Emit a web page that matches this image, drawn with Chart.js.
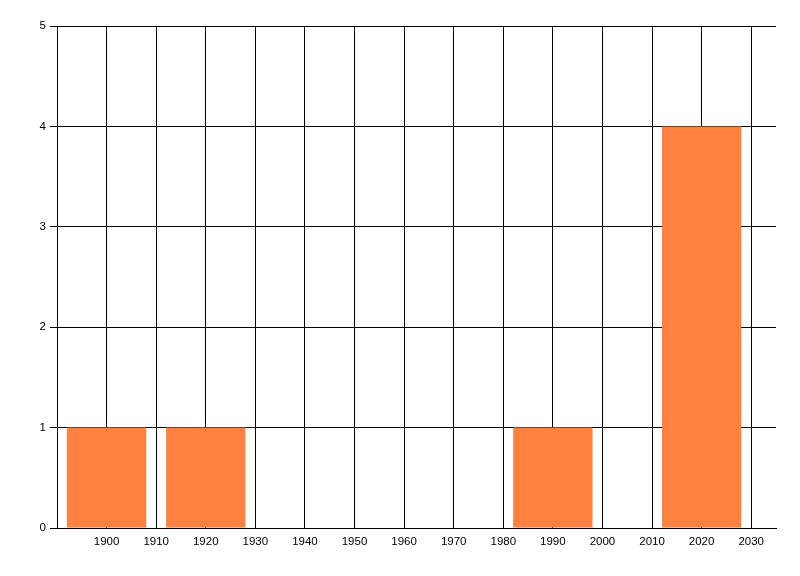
<!DOCTYPE html>
<html>
<head>
<meta charset="utf-8">
<script src="https://cdn.jsdelivr.net/npm/chart.js@4/dist/chart.umd.min.js"></script>
<style>
html,body{margin:0;padding:0;background:#fff;}
#wrap{width:800px;height:576px;}
</style>
</head>
<body>
<div id="wrap"><canvas id="c" width="800" height="576"></canvas></div>
<script>
const years = [1900, 1920, 1990, 2020];
const counts = [1, 1, 1, 4];
const xTicks = [1900, 1910, 1920, 1930, 1940, 1950, 1960, 1970, 1980, 1990, 2000, 2010, 2020, 2030];
const yTicks = [0, 1, 2, 3, 4, 5];

const points = years.map((y, i) => ({x: y, y: counts[i]}));

new Chart(document.getElementById('c'), {
  type: 'bar',
  data: {
    datasets: [{
      data: points,
      backgroundColor: 'rgb(255,128,64)',
      borderWidth: 0,
      barPercentage: 1.6,
      categoryPercentage: 1
    }]
  },
  options: {
    responsive: false,
    animation: false,
    plugins: {legend: {display: false}, tooltip: {enabled: false}},
    layout: {padding: {left: 0, top: 26, right: 24, bottom: 0}},
    font: {family: 'Liberation Sans', size: 11.5},
    scales: {
      x: {
        type: 'linear',
        min: 1890,
        max: 2035,
        offset: false,
        afterBuildTicks: s => { s.ticks = xTicks.map(v => ({value: v})); },
        afterFit: s => { s.height = 48; },
        grid: {color: '#000', lineWidth: 1, drawTicks: false, offset: false},
        border: {color: '#000', width: 1},
        ticks: {color: '#000', padding: 7, maxRotation: 0, autoSkip: false,
                font: {family: 'Liberation Sans', size: 11.5},
                callback: v => String(v)}
      },
      y: {
        min: 0,
        max: 5,
        afterBuildTicks: s => { s.ticks = yTicks.map(v => ({value: v})); },
        afterFit: s => { s.width = 57; },
        grid: {color: '#000', lineWidth: 1, drawTicks: true, tickLength: 7},
        border: {color: '#000', width: 1},
        ticks: {color: '#000', padding: 4,
                font: {family: 'Liberation Sans', size: 11.5}}
      }
    }
  }
});
</script>
</body>
</html>
